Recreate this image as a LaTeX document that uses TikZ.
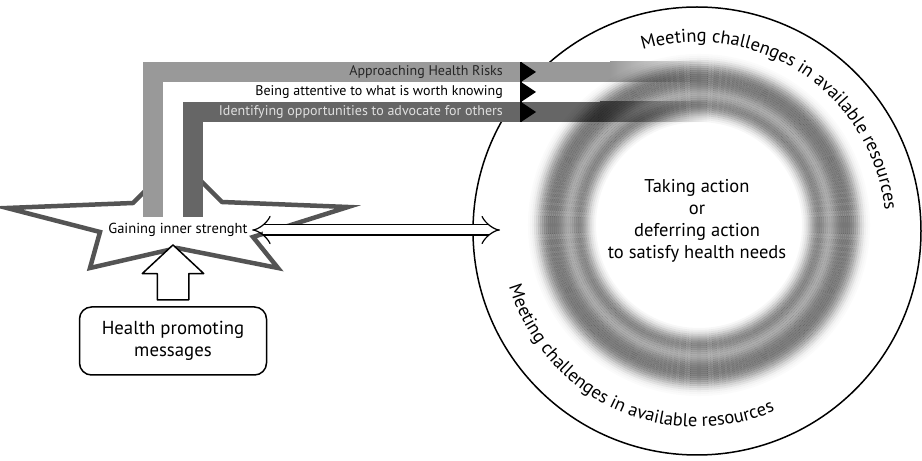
\documentclass[tikz,border=0pt]{standalone}
\usepackage{fontspec}
\setmainfont{PT Sans}
\usetikzlibrary{arrows.meta,shapes.arrows,decorations.text,calc,positioning}

\definecolor{bandA}{gray}{0.60}
\definecolor{bandC}{gray}{0.40}
\definecolor{starline}{gray}{0.33}
\newcommand{\curvefont}{\fontsize{18.5}{22}\selectfont}

\begin{document}
\begin{tikzpicture}[x=1pt,y=1pt,line join=round,
    bandtext/.style={anchor=east,inner sep=0pt,font=\fontsize{14}{16}\selectfont},
    blockarrow/.style={single arrow,draw,line width=1.5pt,fill=white,inner xsep=0pt,
      inner ysep=15pt,single arrow head extend=15pt,single arrow tip angle=94},
    curved/.style={decorate,decoration={text along path,text align=center,
      text={|\curvefont|Meeting challenges in available resources}}}]
  \useasboundingbox (0,0) rectangle (922,461);

  % Outer circle
  \coordinate (world) at (697,230);
  \draw[line width=1.5pt] (world) circle (224);

  % Star
  \draw[starline,fill=white,line width=4.5pt,line join=miter]
    (178,303) -- (222,259) -- (348,254) -- (253,224) -- (278,193) -- (177,213)
    -- (90,193) -- (100,229) -- (7,253) -- (133,258) -- cycle;

  % Three bands
  \fill[bandA] (143,244) rectangle (163,399);
  \fill[bandA] (143,379) rectangle (610,399);
  \shade[left color=bandA,right color=white] (610,379) rectangle (705,399);
  \fill[white] (163,244) rectangle (183,379);
  \fill[white] (163,359) rectangle (600,379);
  \fill[bandC] (183,244) rectangle (203,359);
  \fill[bandC] (183,339) rectangle (600,359);
  \shade[left color=bandC,right color=white] (600,339) rectangle (710,359);

  % Blurred ring
  \coordinate (ring) at (699,236);
  \foreach \r/\o in {104/.03,106/.07,108/.12,110/.19,112/.26,114/.33,116/.39,
      118/.43,120/.45,122/.44,124/.41,126/.37,128/.34,130/.32,132/.33,134/.36,
      136/.40,138/.44,140/.47,142/.49,144/.50,146/.50,148/.50,150/.49,152/.46,
      154/.42,156/.36,158/.30,160/.23,162/.16,164/.11,166/.06,168/.03,170/.015}
    \draw[line width=2.05pt,black,opacity=\o] (ring) circle (\r);

  % Arrow heads on the bands
  \draw[line width=1.3pt] (521,339) -- (521,399);
  \foreach \y in {339,359,379}
    \fill (521,\y) -- (536,\y+10) -- (521,\y+20) -- cycle;

  \node[bandtext,text=black!85] (risks) at (503,389) {Approaching Health Risks};
  \node[bandtext] (knowing) at (503,369) {Being attentive to what is worth knowing};
  \node[bandtext,text=white!88!black] (others) at (503,349) {Identifying opportunities to advocate for others};

  % Texts
  \node[align=center,font=\fontsize{18.5}{22}\selectfont] (core) at (697,240)
    {Taking action\\or\\deferring action\\to satisfy health needs};
  \path[curved] (world) ++(115:189) arc[start angle=115,end angle=-2,radius=189];
  \path[curved] (world) ++(179:196) arc[start angle=179,end angle=311,radius=196];

  \node[font=\fontsize{14.5}{16}\selectfont] (gain) at (178,231) {Gaining inner strenght};
  \node[draw,rounded corners=12pt,line width=1.5pt,minimum width=187pt,minimum height=68pt,
    align=center,font=\fontsize{18.8}{22}\selectfont] (msg) at (173,120)
    {Health promoting\\messages};

  % Connectors
  \coordinate (ringin) at (500,231);
  \draw[double,double distance=9pt,line width=1.2pt,{Implies}-{Implies}]
    ([xshift=1pt]gain.east) -- (ringin);
  \node[blockarrow,rotate=90,minimum height=55pt] (up) at ($(msg.north)+(0,26.5)$) {};
\end{tikzpicture}
\end{document}
